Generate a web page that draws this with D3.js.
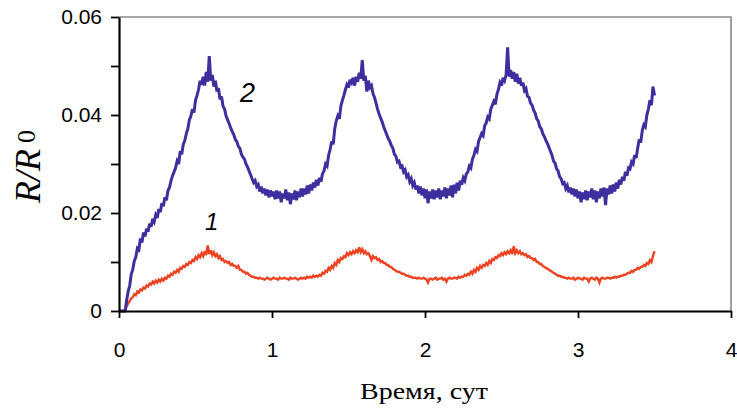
<!DOCTYPE html>
<html><head><meta charset="utf-8">
<script src="https://cdn.jsdelivr.net/npm/d3@7"></script>
<style>body{margin:0;background:#fff}</style>
</head><body><svg id="c" width="737" height="410"></svg>
<script>
// time step of the recorded series (days)
const timeStep = 0.01;
// Curve 1 (red), R/R0, t = 0.00 .. 3.50
const series1 = [
0,0,0,0,0,.0010,.0016,.0020,.0026,.0028,
.0034,.0032,.0040,.0038,.0044,.0042,.0048,.0046,.0052,.0050,
.0056,.0054,.0060,.0056,.0062,.0058,.0064,.0060,.0066,.0062,
.0068,.0066,.0072,.0070,.0076,.0074,.0080,.0078,.0084,.0080,
.0088,.0086,.0092,.0090,.0096,.0094,.0100,.0098,.0104,.0102,
.0110,.0106,.0114,.0110,.0118,.0112,.0122,.0114,.0134,.0116,
.0124,.0114,.0120,.0112,.0116,.0108,.0112,.0104,.0106,.0100,
.0102,.0098,.0100,.0094,.0096,.0092,.0092,.0088,.0092,.0084,
.0084,.0080,.0080,.0076,.0078,.0074,.0072,.0070,.0070,.0068,
.0068,.0066,.0068,.0066,.0066,.0064,.0066,.0068,.0066,.0064,
.0066,.0068,.0066,.0066,.0064,.0068,.0066,.0066,.0068,.0066,
.0066,.0064,.0068,.0066,.0066,.0068,.0066,.0064,.0066,.0068,
.0066,.0068,.0066,.0070,.0068,.0070,.0068,.0072,.0070,.0072,
.0070,.0074,.0072,.0078,.0076,.0082,.0080,.0088,.0084,.0092,
.0088,.0098,.0094,.0104,.0100,.0108,.0106,.0112,.0110,.0118,
.0114,.0120,.0116,.0122,.0118,.0124,.0120,.0130,.0120,.0126,
.0118,.0122,.0116,.0118,.0112,.0104,.0112,.0108,.0110,.0104,
.0106,.0100,.0102,.0098,.0098,.0094,.0094,.0090,.0090,.0086,
.0084,.0082,.0080,.0080,.0078,.0076,.0076,.0074,.0072,.0072,
.0070,.0070,.0068,.0068,.0068,.0066,.0068,.0066,.0066,.0068,
.0066,.0064,.0058,.0066,.0066,.0064,.0066,.0068,.0064,.0066,
.0066,.0068,.0064,.0066,.0060,.0066,.0068,.0066,.0066,.0068,
.0068,.0066,.0070,.0068,.0070,.0070,.0074,.0072,.0076,.0074,
.0080,.0076,.0084,.0080,.0088,.0084,.0092,.0088,.0094,.0092,
.0098,.0094,.0102,.0098,.0106,.0104,.0110,.0108,.0114,.0112,
.0118,.0114,.0120,.0116,.0122,.0118,.0124,.0116,.0132,.0118,
.0124,.0118,.0122,.0116,.0118,.0114,.0116,.0110,.0112,.0108,
.0108,.0104,.0106,.0100,.0100,.0096,.0096,.0092,.0090,.0088,
.0086,.0084,.0082,.0080,.0078,.0076,.0074,.0072,.0072,.0070,
.0070,.0068,.0068,.0066,.0068,.0066,.0066,.0068,.0064,.0066,
.0068,.0066,.0066,.0064,.0068,.0066,.0066,.0060,.0066,.0068,
.0066,.0064,.0068,.0066,.0058,.0066,.0068,.0066,.0066,.0068,
.0068,.0066,.0068,.0068,.0070,.0068,.0070,.0070,.0072,.0072,
.0074,.0074,.0076,.0078,.0078,.0082,.0080,.0084,.0084,.0088,
.0086,.0090,.0090,.0094,.0092,.0098,.0096,.0104,.0100,.0112,
.0122
];
// Curve 2 (blue), R/R0, t = 0.00 .. 3.50
const series2 = [
0,0,0,0,0,.0022,.0040,.0052,.0075,.0085,
.0102,.0110,.0128,.0125,.0148,.0140,.0160,.0152,.0168,.0162,
.0178,.0172,.0188,.0182,.0196,.0190,.0208,.0202,.0220,.0214,
.0232,.0226,.0246,.0252,.0266,.0276,.0284,.0292,.0306,.0300,
.0326,.0320,.0340,.0348,.0362,.0372,.0390,.0398,.0412,.0405,
.0430,.0440,.0452,.0470,.0462,.0478,.0460,.0488,.0468,.0520,
.0470,.0482,.0458,.0470,.0448,.0455,.0432,.0438,.0418,.0412,
.0398,.0390,.0382,.0374,.0366,.0360,.0350,.0346,.0336,.0332,
.0320,.0314,.0310,.0300,.0294,.0286,.0278,.0270,.0262,.0266,
.0254,.0258,.0244,.0254,.0240,.0250,.0236,.0248,.0232,.0246,
.0234,.0244,.0228,.0246,.0230,.0244,.0222,.0240,.0230,.0248,
.0226,.0242,.0218,.0240,.0228,.0246,.0226,.0244,.0232,.0250,
.0234,.0250,.0238,.0256,.0240,.0258,.0246,.0262,.0252,.0268,
.0256,.0272,.0264,.0280,.0286,.0300,.0296,.0318,.0330,.0346,
.0340,.0372,.0388,.0398,.0392,.0418,.0430,.0440,.0452,.0462,
.0456,.0472,.0466,.0476,.0460,.0478,.0468,.0486,.0474,.0512,
.0470,.0480,.0448,.0470,.0456,.0460,.0444,.0436,.0424,.0412,
.0402,.0394,.0386,.0376,.0368,.0360,.0352,.0346,.0338,.0332,
.0320,.0316,.0304,.0306,.0294,.0296,.0284,.0288,.0274,.0278,
.0264,.0270,.0256,.0262,.0248,.0256,.0240,.0254,.0236,.0250,
.0230,.0248,.0220,.0244,.0230,.0248,.0228,.0246,.0232,.0250,
.0228,.0246,.0234,.0252,.0230,.0250,.0236,.0256,.0232,.0258,
.0240,.0262,.0246,.0266,.0258,.0272,.0266,.0280,.0284,.0296,
.0292,.0310,.0318,.0330,.0326,.0346,.0354,.0362,.0358,.0378,
.0384,.0396,.0392,.0412,.0420,.0428,.0422,.0442,.0452,.0466,
.0460,.0476,.0470,.0482,.0538,.0478,.0492,.0474,.0488,.0468,
.0484,.0464,.0476,.0460,.0466,.0450,.0454,.0438,.0436,.0424,
.0420,.0410,.0404,.0392,.0388,.0376,.0372,.0362,.0356,.0348,
.0342,.0334,.0326,.0318,.0306,.0302,.0290,.0286,.0274,.0270,
.0260,.0262,.0250,.0256,.0242,.0252,.0238,.0250,.0234,.0248,
.0230,.0244,.0222,.0242,.0228,.0246,.0226,.0244,.0232,.0250,
.0228,.0246,.0222,.0244,.0230,.0250,.0234,.0252,.0216,.0250,
.0238,.0256,.0240,.0258,.0244,.0262,.0250,.0268,.0258,.0274,
.0266,.0284,.0276,.0292,.0290,.0304,.0300,.0318,.0312,.0332,
.0350,.0344,.0368,.0380,.0376,.0400,.0412,.0430,.0420,.0458,
.0440
];
const seriesLabels = ["1", "2"];
const xTicks = [0, 1, 2, 3, 4];
const yTicks = [0, 0.01, 0.02, 0.03, 0.04, 0.05, 0.06];
const yLabeled = [0, 0.02, 0.04, 0.06];
const xTitle = "Время, сут";

const svg = d3.select("#c");
const x = d3.scaleLinear().domain([0, 4]).range([119, 731]);
const y = d3.scaleLinear().domain([0, 0.06]).range([311, 17]);

// frame (top and right, grey)
svg.append("path")
  .attr("d", `M${x(0)},${y(0.06)}H${x(4)}V${y(0)}`)
  .attr("fill", "none").attr("stroke", "#8a8a8a").attr("stroke-width", 1.6);

const line = d3.line().x((d, i) => x(i * timeStep)).y(d => y(d));

svg.append("path").datum(series1).attr("d", line)
  .attr("fill", "none").attr("stroke", "#ee4221").attr("stroke-width", 2.4)
  .attr("stroke-linejoin", "miter").attr("stroke-miterlimit", 3);
svg.append("path").datum(series2).attr("d", line)
  .attr("fill", "none").attr("stroke", "#3d2f9e").attr("stroke-width", 3)
  .attr("stroke-linejoin", "miter").attr("stroke-miterlimit", 3);

// axes
const fmt = d => yLabeled.some(v => Math.abs(v - d) < 1e-9) ? (d === 0 ? "0" : d3.format(".2f")(d)) : "";
const yAxis = svg.append("g").attr("transform", `translate(${x(0)},0)`)
  .call(d3.axisLeft(y).tickValues(yTicks).tickSize(8).tickSizeOuter(0).tickPadding(9).tickFormat(fmt));
const xAxis = svg.append("g").attr("transform", `translate(0,${y(0)})`)
  .call(d3.axisBottom(x).tickValues(xTicks).tickSize(7).tickSizeOuter(0).tickPadding(24).tickFormat(d3.format("d")));
[yAxis, xAxis].forEach(a => {
  a.select(".domain").attr("stroke", "#000").attr("stroke-width", 2.2);
  a.selectAll(".tick line").attr("stroke", "#000").attr("stroke-width", 1.8);
  a.selectAll("text").attr("fill", "#000")
    .style("font-family", "'Liberation Sans', Arial, sans-serif").style("font-size", "21px");
});

// series labels
svg.append("text").attr("x", 240).attr("y", 102).text(seriesLabels[1])
  .style("font-family", "'Liberation Sans', Arial, sans-serif").style("font-size", "27px").style("font-style", "italic");
svg.append("text").attr("x", 205).attr("y", 230).text(seriesLabels[0])
  .style("font-family", "'Liberation Sans', Arial, sans-serif").style("font-size", "24px").style("font-style", "italic");

// x title
svg.append("text").attr("x", 424).attr("y", 399).attr("text-anchor", "middle")
  .attr("textLength", 128).attr("lengthAdjust", "spacingAndGlyphs")
  .style("font-family", "'Liberation Serif', 'Times New Roman', serif").style("font-size", "23px")
  .text(xTitle);

// y title
const yt = svg.append("text").attr("transform", "translate(40,203) rotate(-90)")
  .style("font-family", "'Liberation Serif', 'Times New Roman', serif");
yt.append("tspan").style("font-size", "36px").style("font-style", "italic").text("R/R");
yt.append("tspan").style("font-size", "26px").attr("dx", 6).attr("dy", -5).text("0");
</script>
</body></html>
